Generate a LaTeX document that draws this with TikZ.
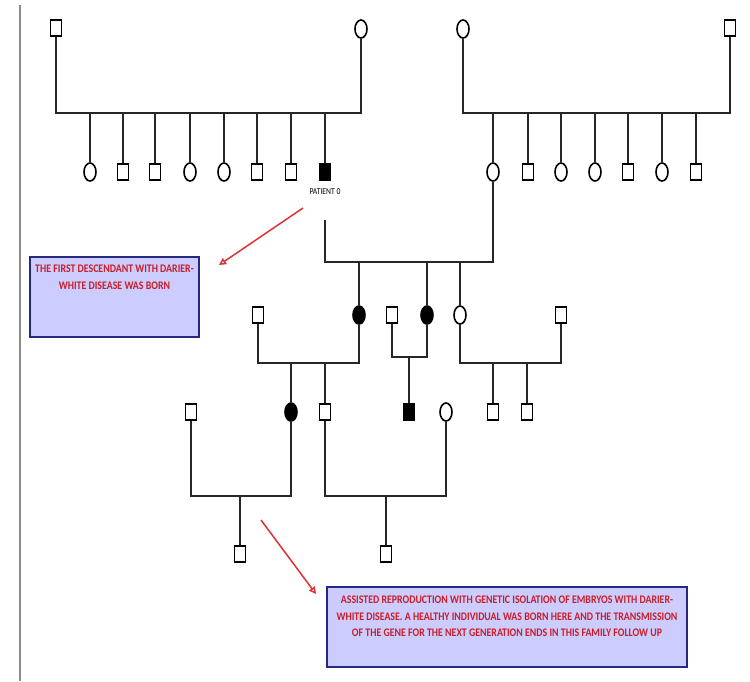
\documentclass[tikz,border=0pt]{standalone}
\usepackage{fontspec}
\usetikzlibrary{shapes.geometric,arrows.meta}
\newfontfamily\notefont[FakeStretch=0.85]{Carlito}
\definecolor{notered}{RGB}{200,30,40}
\definecolor{notefill}{RGB}{204,204,255}
\definecolor{noteborder}{RGB}{40,40,130}
\definecolor{arrowred}{RGB}{220,50,50}

\begin{document}
\begin{tikzpicture}[x=1pt,y=-1pt,
    person/.style={draw,line width=1.6pt,inner sep=0pt},
    male/.style={person,rectangle,minimum width=11pt,minimum height=16pt},
    female/.style={person,ellipse,minimum width=12pt,minimum height=18pt},
    affm/.style={male,fill=black},
    afff/.style={female,fill=black},
    famline/.style={line width=1.8pt,black!85},
    notebox/.style={draw=noteborder,line width=2pt,fill=notefill,inner sep=0pt},
    notetext/.style={text=notered,font=\notefont\bfseries\fontsize{11.6}{16.5}\selectfont,
      align=center,anchor=north,inner sep=0pt},
    pointer/.style={arrowred,line width=1.5pt,-{Triangle[open,length=7pt,width=7pt]}}]
    \useasboundingbox (0,0) rectangle (750,681);%

    \coordinate (S1) at (20,5);%
    \coordinate (S2) at (20,681);%
    \draw[black!45,line width=1.5pt] (S1) -- (S2);%

    % first generation
    \node[male] (A1) at (56,28) {};%
    \node[female] (A2) at (361,29) {};%
    \node[female] (B1) at (463,29) {};%
    \node[male] (B2) at (730,28) {};%
    \coordinate (MA) at (200,113);%
    \coordinate (MB) at (600,113);%
    \draw[famline] (A1) |- (MA) -| (A2);%
    \draw[famline] (B1) |- (MB) -| (B2);%

    \foreach \x/\s [count=\i] in {90/female,123/male,155/male,190/female,224/female,257/male,291/male,325/affm}
      {\node[\s] (C\i) at (\x,172) {}; \draw[famline] (C\i) -- (C\i |- MA);}%
    \foreach \x/\s [count=\i] in {493/female,528/male,561/female,595/female,628/male,662/female,696/male}
      {\node[\s] (D\i) at (\x,172) {}; \draw[famline] (D\i) -- (D\i |- MB);}%

    \node[text=black,font=\notefont\fontsize{9}{10}\selectfont,inner sep=0pt] (L0) at (325,192) {PATIENT 0};%

    % second generation
    \coordinate (P0) at (325,220);%
    \coordinate (MC) at (410,262);%
    \draw[famline] (P0) |- (MC) -| (D1);%

    \node[afff] (E1) at (359,315) {};%
    \node[afff] (E2) at (427,315) {};%
    \node[female] (E3) at (460,315) {};%
    \foreach \n in {E1,E2,E3} \draw[famline] (\n) -- (\n |- MC);%

    \node[male] (F1) at (258,315) {};%
    \node[male] (F2) at (392,315) {};%
    \node[male] (F3) at (561,315) {};%
    \coordinate (ME) at (300,363);%
    \coordinate (MF) at (410,357);%
    \coordinate (MG) at (510,363);%
    \draw[famline] (F1) |- (ME) -| (E1);%
    \draw[famline] (F2) |- (MF) -| (E2);%
    \draw[famline] (E3) |- (MG) -| (F3);%

    % third generation
    \node[afff] (G1) at (291,412) {};%
    \node[male] (G2) at (325,412) {};%
    \node[affm] (G3) at (409,412) {};%
    \node[male] (G4) at (493,412) {};%
    \node[male] (G5) at (527,412) {};%
    \foreach \n/\m in {G1/ME,G2/ME,G3/MF,G4/MG,G5/MG} \draw[famline] (\n) -- (\n |- \m);%

    \node[male] (H1) at (191,412) {};%
    \node[female] (H2) at (446,412) {};%
    \coordinate (MH) at (240,496);%
    \coordinate (MI) at (386,496);%
    \draw[famline] (H1) |- (MH) -| (G1);%
    \draw[famline] (G2) |- (MI) -| (H2);%

    % fourth generation
    \node[male] (K1) at (240,554) {};%
    \node[male] (K2) at (386,554) {};%
    \draw[famline] (K1) -- (K1 |- MH);%
    \draw[famline] (K2) -- (K2 |- MI);%

    % notes
    \node[notebox,minimum width=169pt,minimum height=80pt] (N1) at (114.5,297) {};%
    \node[notetext] (T1) at (114.5,265) {THE FIRST DESCENDANT WITH DARIER-\\WHITE DISEASE WAS BORN};%
    \node[notebox,minimum width=360pt,minimum height=80pt] (N2) at (507,627) {};%
    \node[notetext] (T2) at (507,596) {ASSISTED REPRODUCTION WITH GENETIC ISOLATION OF EMBRYOS WITH DARIER-\\WHITE DISEASE. A HEALTHY INDIVIDUAL WAS BORN HERE AND THE TRANSMISSION\\OF THE GENE FOR THE NEXT GENERATION ENDS IN THIS FAMILY FOLLOW UP};%

    \coordinate (R1) at (303,208);%
    \coordinate (Q1) at (219,265);%
    \coordinate (R2) at (261,520);%
    \coordinate (Q2) at (316,594);%
    \draw[pointer] (R1) -- (Q1);%
    \draw[pointer] (R2) -- (Q2);%
  \end{tikzpicture}
\end{document}
